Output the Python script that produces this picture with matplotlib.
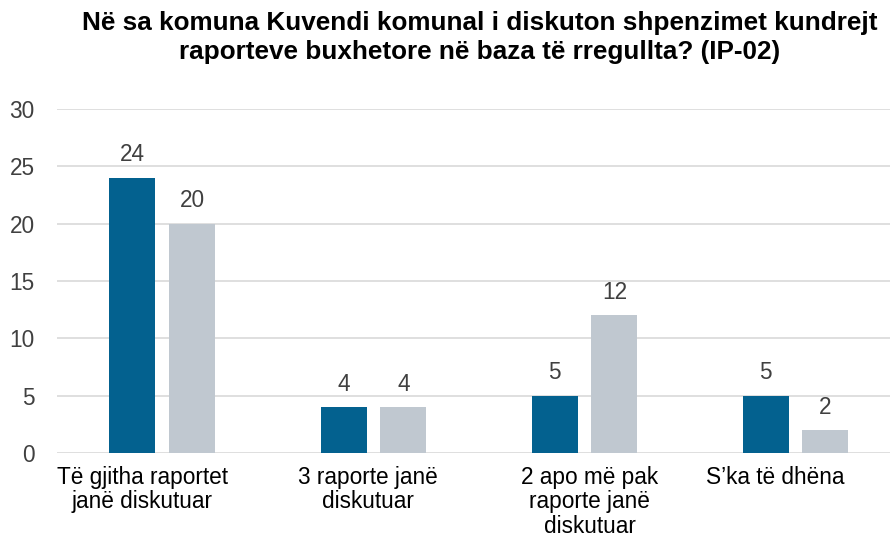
import numpy as np
import matplotlib.pyplot as plt
import matplotlib.transforms as mtransforms

plt.rcParams['font.family'] = ['Liberation Sans', 'DejaVu Sans']

categories = ['Të gjitha raportet\njanë diskutuar', '3 raporte janë\ndiskutuar',
              '2 apo më pak\nraporte janë\ndiskutuar', 'S\u2019ka të dhëna']
series_a = [24, 4, 5, 5]
series_b = [20, 4, 12, 2]
yticks = [0, 5, 10, 15, 20, 25, 30]

blue = '#03618f'
grey = '#c0c8d0'

fig = plt.figure(figsize=(8.9, 5.37), dpi=100)
ax = fig.add_axes([0.064, 0.1564, 0.936, 0.6406])

x = np.arange(len(categories))
w = 0.218
off = 0.142
b1 = ax.bar(x - off, series_a, w, color=blue, zorder=3)
b2 = ax.bar(x + off, series_b, w, color=grey, zorder=3)
for bars in (b1, b2):
    for r in bars:
        ax.text(r.get_x() + r.get_width() / 2, r.get_height() + 1.0, str(int(r.get_height())),
                ha='center', va='bottom', fontsize=16.3, color='#404040')

ax.set_xlim(-0.5, 3.448)
ax.set_ylim(0, 30)
ax.set_yticks(yticks)
ax.set_xticks(x)
ax.set_xticklabels(categories, fontsize=16.3, color='#000000', linespacing=1.1)
ax.tick_params(axis='y', labelsize=16.3, labelcolor='#404040', length=0, pad=16)
ax.tick_params(axis='x', length=0, pad=9)
ax.grid(axis='y', color='#d9d9d9', linewidth=1.2, zorder=0)
for s in ax.spines.values():
    s.set_visible(False)

# labels in the original are not exactly centred under the groups
shifts = [-20, -6, 5, -20]
for lab, dx in zip(ax.get_xticklabels(), shifts):
    lab.set_transform(lab.get_transform() + mtransforms.ScaledTranslation(dx / 100, 0, fig.dpi_scale_trans))

fig.text(0.539, 1 - 11 / 537, 'Në sa komuna Kuvendi komunal i diskuton shpenzimet kundrejt\nraporteve buxhetore në baza të rregullta? (IP-02)',
         ha='center', va='top', fontsize=18.8, fontweight='bold', linespacing=1.25)

fig.savefig('out.png', dpi=100)
